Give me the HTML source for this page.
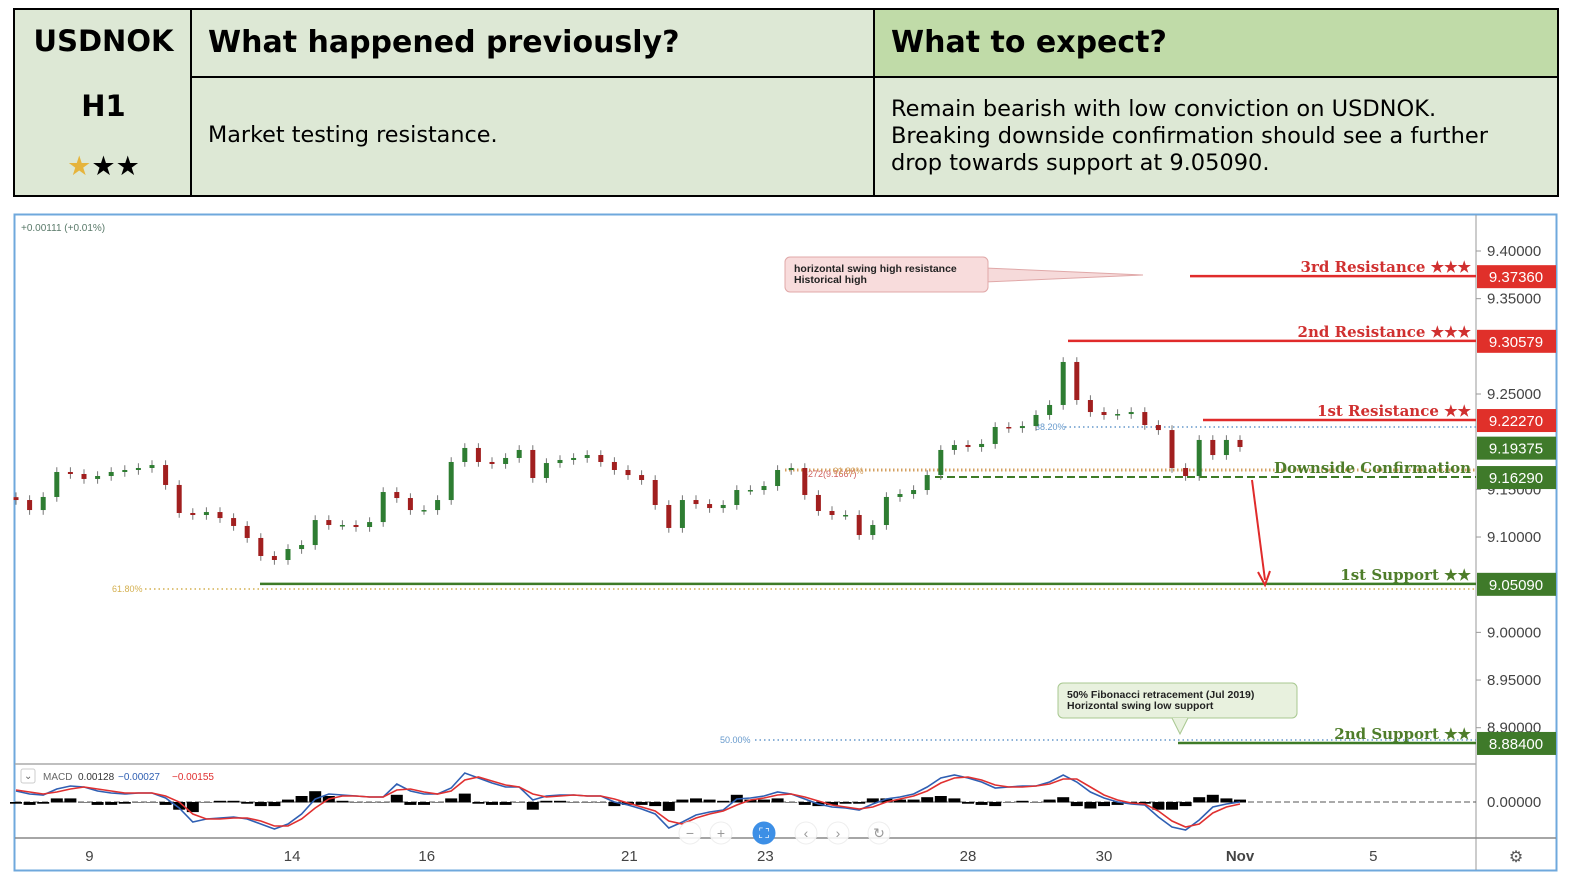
<!DOCTYPE html>
<html><head><meta charset="utf-8">
<style>
body{margin:0;width:1584px;height:896px;background:#fff;overflow:hidden;font-family:"DejaVu Sans","Liberation Sans",sans-serif;}
.cell{position:absolute;box-sizing:border-box;color:#000;}
</style></head>
<body>
<div style="position:absolute;left:13px;top:8px;width:1546px;height:189px;border:2px solid #000;box-sizing:border-box;background:#dde8d5;"></div>
<div class="cell" style="left:15px;top:10px;width:177px;height:185px;border-right:2px solid #000;"></div>
<div class="cell" style="left:15px;top:24px;width:177px;text-align:center;font-weight:bold;font-size:29px;">USDNOK</div>
<div class="cell" style="left:15px;top:89px;width:177px;text-align:center;font-weight:bold;font-size:29px;">H1</div>
<div class="cell" style="left:15px;top:152px;width:177px;text-align:center;font-size:27px;line-height:30px;"><span style="color:#e6b43c">★</span>★★</div>
<div class="cell" style="left:192px;top:10px;width:683px;height:68px;border-bottom:2px solid #000;border-right:2px solid #000;padding:15px 0 0 16px;font-weight:bold;font-size:30px;">What happened previously?</div>
<div class="cell" style="left:875px;top:10px;width:682px;height:68px;border-bottom:2px solid #000;background:#c0dba8;padding:15px 0 0 16px;font-weight:bold;font-size:30px;">What to expect?</div>
<div class="cell" style="left:192px;top:78px;width:683px;height:117px;border-right:2px solid #000;padding:44px 0 0 16px;font-size:22.3px;">Market testing resistance.</div>
<div class="cell" style="left:875px;top:78px;width:682px;height:117px;background:#dde8d5;padding:18px 0 0 16px;font-size:22.5px;line-height:27px;">Remain bearish with low conviction on USDNOK.<br>Breaking downside confirmation should see a further<br>drop towards support at 9.05090.</div>

<svg id="chart" width="1584" height="896" style="position:absolute;left:0;top:0;" font-family="Liberation Sans, sans-serif"></svg>

<script>
const closes=[9.1388,9.1283,9.1420,9.1682,9.1661,9.1609,9.1640,9.1682,9.1703,9.1724,9.1755,9.1546,9.1252,9.1231,9.1262,9.1199,9.1116,9.0990,9.0801,9.0759,9.0874,9.0916,9.1178,9.1126,9.1126,9.1105,9.1157,9.1472,9.1409,9.1283,9.1283,9.1388,9.1787,9.1934,9.1787,9.1766,9.1829,9.1913,9.1619,9.1776,9.1808,9.1829,9.1860,9.1787,9.1703,9.1650,9.1598,9.1336,9.1095,9.1388,9.1346,9.1304,9.1336,9.1493,9.1493,9.1535,9.1703,9.1724,9.1441,9.1273,9.1231,9.1231,9.1021,9.1126,9.1420,9.1451,9.1493,9.1650,9.1913,9.1965,9.1944,9.1976,9.2154,9.2143,9.2164,9.2280,9.2385,9.2836,9.2437,9.2311,9.2280,9.2290,9.2311,9.2175,9.2122,9.1724,9.1640,9.2018,9.1860,9.2018,9.1944];
const macdLine=[11,8,7,13,16,15,11,9,8,9,9,4,-6,-20,-17,-16,-15,-17,-22,-27,-22,-12,3,8,7,6,5,5,18,11,8,8,14,29,24,19,15,15,2,6,7,7,6,6,0,-3,-7,-12,-26,-20,-13,-10,-8,3,4,6,10,8,3,-2,-5,-6,-8,-2,3,5,8,15,24,27,24,20,14,15,16,16,20,27,20,10,4,0,-2,-3,-15,-25,-28,-18,-5,-2,0];
const signalLine=[12,10,8,10,13,15,13,11,9,9,9,6,0,-12,-17,-17,-16,-16,-19,-24,-24,-17,-6,3,6,6,5,5,12,13,10,8,11,22,25,21,17,15,8,5,6,7,6,6,3,-1,-5,-9,-19,-22,-16,-12,-9,-3,2,4,7,8,5,1,-3,-5,-7,-5,0,3,6,11,19,24,25,22,17,15,15,16,18,23,23,15,7,2,-1,-2,-9,-19,-25,-22,-11,-5,-2];
const priceTicks=[9.40,9.35,9.25,9.15,9.10,9.00,8.95,8.90];
const timeLabels=["9","14","16","21","23","28","30","Nov","5"];
const timeLabelIdx=[5.4,20.3,30.2,45.1,55.1,70.0,80.0,90.0,99.8];
const levelNames=["3rd Resistance ★★★","2nd Resistance ★★★","1st Resistance ★★","Downside Confirmation","1st Support ★★","2nd Support ★★"];
const levelValues=[9.37360,9.30579,9.22270,9.16290,9.05090,8.88400];
const currentPrice=9.19375;

const NS="http://www.w3.org/2000/svg";
const svg=document.getElementById('chart');
function y(p){return 251+(9.40-p)*953.4;}
function x(i){return 16+i*13.6;}
function my(v){return 802-v;}
function el(tag,attrs,parent){const e=document.createElementNS(NS,tag);for(const k in attrs)e.setAttribute(k,attrs[k]);(parent||svg).appendChild(e);return e;}
function txt(s,attrs){const e=el('text',attrs);e.textContent=s;return e;}

let f=el('rect',{x:14.5,y:214.5,width:1542,height:656,fill:'#fff',stroke:'#6fa8dc','stroke-width':2});

el('line',{x1:1476,y1:215,x2:1476,y2:870,stroke:'#999','stroke-width':1});
el('line',{x1:15,y1:764,x2:1476,y2:764,stroke:'#aaa','stroke-width':1.5});
el('line',{x1:15,y1:838,x2:1556,y2:838,stroke:'#888','stroke-width':1.5});

let ch=txt('+0.00111 (+0.01%)',{x:21,y:231,'font-size':10,fill:'#5a7a6a'});


priceTicks.forEach(p=>{
  el('line',{x1:1476,y1:y(p),x2:1481,y2:y(p),stroke:'#999'});
  const t=txt(p.toFixed(5),{x:1487,y:y(p)+5,'font-size':15,fill:'#444'});
  
});

function dotted(x1,yy,color,label,lx){
  el('line',{x1:x1,y1:yy,x2:1476,y2:yy,stroke:color,'stroke-width':1.5,'stroke-dasharray':'1.5,3'});
  if(label){txt(label,{x:lx,y:yy+3,'font-size':9,fill:color});}
}
dotted(145,589,'#d4b050','61.80%',112);
dotted(755,740,'#6699cc','50.00%',720);
dotted(1065,427,'#6699cc','38.20%',1035);
el('line',{x1:785,y1:470,x2:1476,y2:470,stroke:'#d4a060','stroke-width':3,'stroke-dasharray':'1.5,2.5'});
txt('-272(9.1667)',{x:805,y:477,'font-size':9,fill:'#d06060'});
txt('61.80%',{x:833,y:474,'font-size':9,fill:'#d4a060'});

const lvlStart=[1190,1068,1203,935,260,1178];
levelValues.forEach((v,i)=>{
  const red=i<3; const col=red?'#e02b2b':'#3e7b27';
  const ln=el('line',{x1:lvlStart[i],y1:y(v),x2:1476,y2:y(v),stroke:col,'stroke-width':i===3?2:2.5});
  if(i===3)ln.setAttribute('stroke-dasharray','8,4');
  
  const t=txt(levelNames[i],{x:1471,y:y(v)-4,'text-anchor':'end','font-size':15,'font-weight':'bold','font-family':'DejaVu Serif, serif',fill:red?'#d03030':'#4e7d2a'});
  
  const b=el('rect',{x:1477,y:y(v)-11,width:79,height:23,fill:red?'#e0302a':'#3f7a2a'});
  
  txt(v.toFixed(5),{x:1516,y:y(v)+6,'text-anchor':'middle','font-size':15,fill:'#fff'});
});
el('rect',{x:1477,y:y(currentPrice)-11,width:79,height:23,fill:'#3f7a2a'});
let cp=txt(currentPrice.toFixed(5),{x:1516,y:y(currentPrice)+6,'text-anchor':'middle','font-size':15,fill:'#fff'});


closes.forEach((c,i)=>{
  const o=i===0?c+0.003:closes[i-1];
  const hi=Math.max(o,c)+0.005, lo=Math.min(o,c)-0.005;
  const up=c>=o; const col=up?'#2e7d32':'#a11f1f';
  el('line',{x1:x(i),y1:y(hi),x2:x(i),y2:y(lo),stroke:'#777','stroke-width':1});
  const r=el('rect',{x:x(i)-2.5,y:y(Math.max(o,c)),width:5,height:Math.max(1.5,Math.abs(y(o)-y(c))),fill:col});
  
  
});

el('line',{x1:1252,y1:480,x2:1265,y2:580,stroke:'#e02b2b','stroke-width':2});
el('polyline',{points:'1258,572 1265,585 1270,571',fill:'none',stroke:'#e02b2b','stroke-width':2});

el('path',{d:'M985,268 L1143,275 L985,282 Z',fill:'#f6dada',stroke:'#e0a8a8'});
let c1=el('rect',{x:785,y:257,width:203,height:35,rx:5,fill:'#f8dcdc',stroke:'#e0a8a8'});

txt('horizontal swing high resistance',{x:794,y:272,'font-size':10.5,'font-weight':'bold',fill:'#222'});
txt('Historical high',{x:794,y:283,'font-size':10.5,'font-weight':'bold',fill:'#222'});
let c2=el('rect',{x:1058,y:683,width:239,height:35,rx:5,fill:'#e8f1de',stroke:'#a8c890'});

el('path',{d:'M1172,718 L1180,734 L1188,718',fill:'#e8f1de',stroke:'#a8c890'});
txt('50% Fibonacci retracement (Jul 2019)',{x:1067,y:698,'font-size':10.5,'font-weight':'bold',fill:'#222'});
txt('Horizontal swing low support',{x:1067,y:709,'font-size':10.5,'font-weight':'bold',fill:'#222'});

el('line',{x1:15,y1:802,x2:1476,y2:802,stroke:'#555','stroke-width':1,'stroke-dasharray':'6,3'});
macdLine.forEach((v,i)=>{
  const h=(v-signalLine[i])*1.2;
  const r=el('rect',{x:x(i)-6,y:Math.min(my(h),802),width:12,height:Math.abs(h)+0.5,fill:'#000'});
  
  
});
function line(arr,col,name){
  const p=el('polyline',{points:arr.map((v,i)=>x(i)+','+my(v)).join(' '),fill:'none',stroke:col,'stroke-width':1.6});
  
  
}
line(macdLine,'#2f5fb3','macd-line');
line(signalLine,'#e03030','signal-line');
el('rect',{x:21,y:769,width:14,height:14,rx:2,fill:'#fff',stroke:'#ccc'});
txt('⌄',{x:24,y:779,'font-size':10,fill:'#666'});
txt('MACD',{x:43,y:780,'font-size':10,fill:'#666'});
txt('0.00128',{x:78,y:780,'font-size':10,fill:'#333'});
txt('−0.00027',{x:118,y:780,'font-size':10,fill:'#2f5fb3'});
txt('−0.00155',{x:172,y:780,'font-size':10,fill:'#e03030'});
txt('0.00000',{x:1487,y:807,'font-size':15,fill:'#444'});

timeLabels.forEach((s,i)=>{
  const t=txt(s,{x:x(timeLabelIdx[i]),y:861,'text-anchor':'middle','font-size':15,fill:'#444','font-weight':s==='Nov'?'bold':'normal'});
  
});
let g=txt('⚙',{x:1516,y:862,'text-anchor':'middle','font-size':16,fill:'#555'});


const navX=[690,721,764,806,838,879];const navS=['−','+','⛶','‹','›','↻'];
navX.forEach((cx,i)=>{
  const c=el('circle',{cx:cx,cy:833,r:11,fill:i===2?'#3d8fe6':'#fff',stroke:i===2?'#3d8fe6':'#eee','fill-opacity':i===2?1:0.85});
  
  
  txt(navS[i],{x:cx,y:838,'text-anchor':'middle','font-size':14,fill:i===2?'#fff':'#999'});
});
</script>
</body></html>
